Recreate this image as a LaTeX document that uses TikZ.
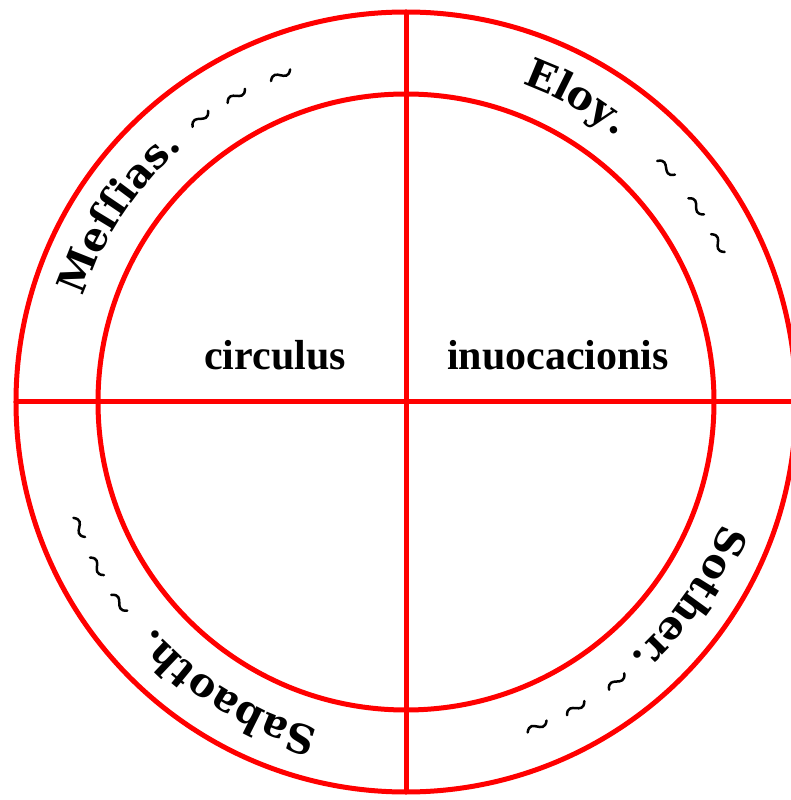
\documentclass[tikz,border=0pt]{standalone}
\usepackage{fontspec}
\setmainfont{Liberation Serif}
\newfontfamily\ringfont{DejaVu Serif}
\usetikzlibrary{decorations.text}

\begin{document}
\begin{tikzpicture}[x=1pt, y=1pt,
    ring/.style={draw=red, line width=5pt},
    bar/.style={draw=red, line width=5pt},
    centreword/.style={font=\bfseries\fontsize{42}{42}\selectfont, anchor=base, inner sep=0pt},
    ringname/.style={decorate, decoration={text along path, text align=left,
        text={|\ringfont\bfseries\fontsize{40}{40}\selectfont|#1}}},
    squiggle/.pic={\draw[line width=2.5pt, line cap=round]
        (-11,-2) .. controls (-7,5) and (-3,2) .. (0,0) .. controls (3,-2) and (7,-5) .. (11,2);},
]
\useasboundingbox (-406,-398) rectangle (385,402);

% Rings
\draw[ring] (0,0) circle (390);
\draw[ring] (0,0) circle (308);

% Cross
\draw[bar] (-390,0) -- (390,0);
\draw[bar] (0,390) -- (0,-390);

% Inner words
\node[centreword] (circ) at (-131,32) {circulus};
\node[centreword] (inuo) at (152,32) {inuocacionis};

% Names in the ring
\path[ringname={Meſſias.}] (162:339) arc[start angle=162, end angle=95, radius=339];
\path[ringname={Eloy.}] (70:339) arc[start angle=70, end angle=20, radius=339];
\path[ringname={Sother.}] (-21:339) arc[start angle=-21, end angle=-80, radius=339];
\path[ringname={Sabaoth.}] (-105:339) arc[start angle=-105, end angle=-170, radius=339];

% Tildes
\foreach \a in {126,119,111, 42,34,27, -53,-61,-68, -145,-152,-159}
  \pic[rotate=\a-90] at (\a:350) {squiggle};

\end{tikzpicture}
\end{document}
